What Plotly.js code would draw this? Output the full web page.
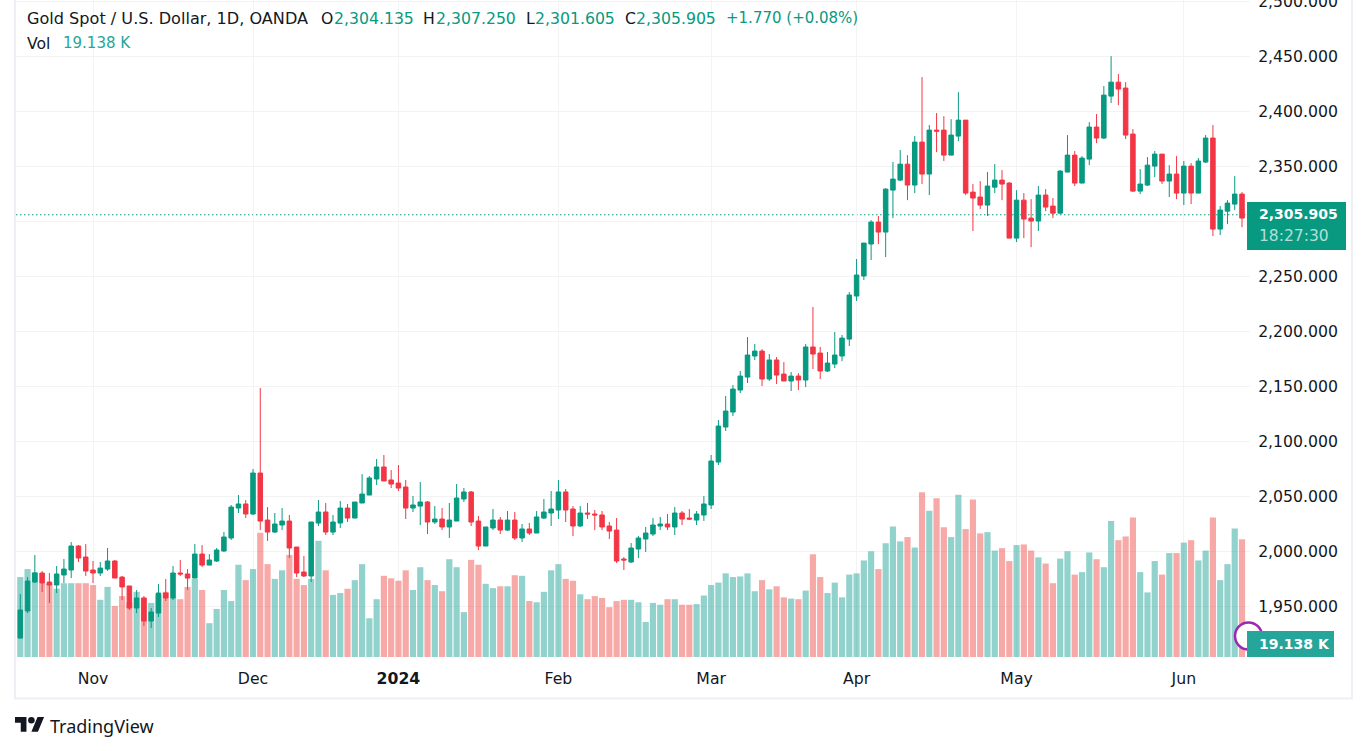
<!DOCTYPE html>
<html>
<head>
<meta charset="utf-8">
<title>Gold Spot / U.S. Dollar</title>
<script src="https://cdn.plot.ly/plotly-3.0.1.min.js"></script>
<style>
  html, body { margin: 0; padding: 0; background: #fff; }
  #chart { width: 1361px; height: 751px; }
</style>
</head>
<body>
<div id="chart"></div>
<script>
const opens = [
  1921.4, 1946, 1972.3, 1980.5, 1972.3, 1969.6, 1978.7, 1983.2, 2005, 1995,
  1983.2, 1980.5, 1984.1, 1991.4, 1976.8, 1968.7, 1948.7, 1957.8, 1936.9, 1944.1,
  1962.3, 1957.8, 1980.5, 1979.6, 1975.9, 1997.7, 1987.7, 1991.4, 2000.5, 2012.3,
  2039.5, 2043.2, 2034.1, 2071.3, 2028.6, 2017.7, 2024.1, 2027.7, 2004.1, 1981.4,
  1977.8, 2025.9, 2035.9, 2017.7, 2025.9, 2039.5, 2030.4, 2044.1, 2051.3, 2065.9,
  2076.8, 2065, 2062.2, 2058.6, 2039.5, 2041.3, 2045, 2026.8, 2029.5, 2022.3,
  2027.7, 2047.7, 2054.1, 2027.7, 2005, 2021.4, 2028.6, 2019.5, 2028.6, 2012.3,
  2020.5, 2016.8, 2030.4, 2035, 2037.7, 2054.1, 2038.6, 2023.2, 2035, 2034.1,
  2033.2, 2023.2, 2019.5, 1993.2, 1990.5, 2002.3, 2011.4, 2015.9, 2023.2, 2025,
  2022.3, 2035, 2030.4, 2028.6, 2033.2, 2042.3, 2081.3, 2113.1, 2126.7, 2146.7,
  2158.5, 2177.6, 2182.1, 2156.7, 2174, 2161.2, 2154.9, 2159.4, 2155.8, 2185.8,
  2180.3, 2164, 2170.3, 2177.6, 2193, 2232.1, 2250.3, 2279.3, 2299.3, 2290.2,
  2328.3, 2337.4, 2351.9, 2332.9, 2371.9, 2342.9, 2382.8, 2382.8, 2360.1, 2377.4,
  2391.9, 2326.5, 2322, 2314.7, 2331, 2337.4, 2334.7, 2284.7, 2319.2, 2302.9,
  2300.2, 2323.8, 2313.8, 2307.4, 2344.7, 2360.1, 2334.7, 2356.5, 2385.6, 2375.6,
  2413.7, 2426.4, 2421, 2379.2, 2327.4, 2332.9, 2350.1, 2361, 2336.5, 2342.9,
  2325.6, 2350.1, 2325.6, 2353.8, 2375.6, 2292.9, 2309.2, 2315.6, 2324.7
];
const highs = [
  1961.4, 1976.8, 1996.8, 1982.3, 1980.5, 1986.8, 1993.2, 2008.6, 2005.9, 2006.8,
  1991.4, 1990.5, 2003.2, 1992.3, 1977.8, 1968.7, 1965, 1959.6, 1948.7, 1970.5,
  1975, 1986.8, 1992.3, 1984.1, 2006.8, 2005.9, 1997.7, 2003.2, 2017.7, 2042.3,
  2051.3, 2046.8, 2075, 2148.5, 2040.4, 2035, 2039.5, 2033.2, 2004.1, 1995.9,
  2026.8, 2046.8, 2044.1, 2033.2, 2045.9, 2043.2, 2045, 2070.4, 2068.6, 2084,
  2087.7, 2074, 2078.6, 2065, 2050.4, 2063.1, 2045.9, 2041.3, 2039.5, 2044.1,
  2061.3, 2057.7, 2055, 2032.3, 2022.3, 2038.6, 2031.4, 2036.8, 2035.9, 2025,
  2025.9, 2036.8, 2047.7, 2055, 2065, 2056.8, 2041.3, 2041.3, 2044.1, 2037.7,
  2036.8, 2026.8, 2030.4, 1995, 2007.7, 2014.1, 2022.3, 2030.4, 2031.4, 2034.1,
  2040.4, 2036.8, 2038.6, 2036.8, 2050.4, 2087.7, 2119.5, 2141.3, 2151.3, 2164,
  2194.8, 2188.5, 2183.9, 2179.4, 2176.7, 2172.1, 2163.1, 2162.1, 2188.5, 2222.1,
  2185.8, 2181.2, 2199.4, 2196.7, 2235.7, 2265.7, 2280.2, 2301.1, 2304.8, 2330.1,
  2353.8, 2364.7, 2360.1, 2377.4, 2431, 2387.4, 2398.3, 2395.5, 2392.8, 2417.3,
  2391.9, 2333.8, 2336.5, 2344.7, 2351.9, 2346.5, 2335.6, 2328.3, 2325.6, 2320.1,
  2332, 2329.2, 2321.1, 2346.5, 2378.3, 2363.8, 2359.2, 2390.1, 2397.4, 2422.8,
  2450, 2433.7, 2426.4, 2383.7, 2347.4, 2358.3, 2363.8, 2361, 2351, 2359.2,
  2354.7, 2352.9, 2357.4, 2378.3, 2387.4, 2313.8, 2319.2, 2341, 2326.5
];
const lows = [
  1921.4, 1944.1, 1971.4, 1963.2, 1953.2, 1962.3, 1971.4, 1975.9, 1990.5, 1977.8,
  1971.4, 1977.8, 1982.3, 1975.9, 1956, 1946.9, 1944.1, 1932.3, 1930.5, 1940.5,
  1955, 1956, 1977.8, 1965, 1975.9, 1985.9, 1987.7, 1990.5, 1999.6, 2010.5,
  2035, 2030.4, 2033.2, 2019.5, 2009.6, 2016.8, 2019.5, 1994.1, 1976.8, 1976.8,
  1972.3, 2023.2, 2015, 2015, 2021.4, 2026.8, 2030.4, 2044.1, 2051.3, 2060.4,
  2064.1, 2057.7, 2055, 2029.5, 2035.9, 2024.1, 2015.9, 2025, 2019.5, 2012.3,
  2027.7, 2045, 2023.2, 2001.4, 2005, 2019.5, 2015.9, 2018.6, 2010.5, 2008.6,
  2015, 2016.8, 2029.5, 2023.2, 2029.5, 2026.8, 2014.1, 2022.3, 2029.5, 2019.5,
  2019.5, 2011.4, 1989.6, 1983.2, 1989.6, 1994.1, 1999.6, 2014.1, 2019.5, 2019.5,
  2015, 2024.1, 2028.6, 2024.1, 2027.7, 2038.6, 2078.6, 2109.5, 2123.1, 2144,
  2153.1, 2174, 2150.3, 2154.9, 2152.2, 2154.9, 2145.8, 2146.7, 2149.4, 2165.8,
  2156.7, 2163.1, 2166.7, 2173, 2186.7, 2227.6, 2246.6, 2264.8, 2279.3, 2267.5,
  2302.9, 2336.5, 2319.2, 2325.6, 2333.8, 2323.8, 2362.8, 2354.7, 2360.1, 2372.8,
  2323.8, 2291.1, 2311.1, 2304.7, 2325.6, 2319.2, 2284.7, 2281.1, 2284.7, 2276.5,
  2291.1, 2309.2, 2302.9, 2306.5, 2344.7, 2332, 2334.7, 2351, 2371, 2374.7,
  2407.4, 2405.5, 2374.7, 2326.5, 2324.7, 2332, 2340.1, 2333.8, 2322, 2320.1,
  2314.7, 2315.6, 2325.6, 2352.9, 2286.5, 2287.5, 2297.4, 2310.2, 2294.7
];
const closes = [
  1946.9, 1973.2, 1980.5, 1971.4, 1969.6, 1979.6, 1984.1, 2005, 1994.1, 1982.3,
  1980.5, 1985, 1991.4, 1975.9, 1967.8, 1948.7, 1957.8, 1936.9, 1945.1, 1962.3,
  1957.8, 1980.5, 1979.6, 1975.9, 1997.7, 1987.7, 1992.3, 2001.4, 2013.2, 2040.4,
  2043.2, 2034.1, 2071.3, 2027.7, 2017.7, 2025, 2027.7, 2003.2, 1980.5, 1977.8,
  2026.8, 2035.9, 2017.7, 2026.8, 2039.5, 2030.4, 2045, 2052.2, 2066.8, 2076.8,
  2064.1, 2061.3, 2057.7, 2039.5, 2042.3, 2045, 2026.8, 2029.5, 2022.3, 2028.6,
  2048.6, 2054.1, 2026.8, 2005, 2022.3, 2028.6, 2019.5, 2028.6, 2012.3, 2020.5,
  2016.8, 2031.4, 2035.9, 2038.6, 2054.1, 2037.7, 2023.2, 2035, 2034.1, 2033.2,
  2022.3, 2018.6, 1991.4, 1992.3, 2003.2, 2012.3, 2016.8, 2024.1, 2025, 2022.3,
  2035, 2029.5, 2029.5, 2034.1, 2043.2, 2082.2, 2114, 2127.6, 2147.6, 2159.4,
  2178.5, 2182.1, 2156.7, 2174, 2160.3, 2154.9, 2159.4, 2155.8, 2185.8, 2179.4,
  2164, 2171.2, 2178.5, 2193.9, 2233, 2251.2, 2280.2, 2299.3, 2290.2, 2329.2,
  2338.3, 2351.9, 2332.9, 2371.9, 2342.9, 2382.8, 2381.9, 2360.1, 2378.3, 2391.9,
  2325.6, 2321.1, 2314.7, 2332, 2337.4, 2333.8, 2284.7, 2319.2, 2302, 2300.2,
  2323.8, 2312.9, 2307.4, 2345.6, 2360.1, 2334.7, 2357.4, 2385.6, 2375.6, 2414.6,
  2426.4, 2420.1, 2378.3, 2327.4, 2333.8, 2351, 2361, 2336.5, 2342.9, 2325.6,
  2350.1, 2325.6, 2354.7, 2375.6, 2292.9, 2310.2, 2316.5, 2324.7, 2302.9
];
// volume in thousands
const volumes = [
  13, 14.3, 13.8, 12, 11.9, 11.1, 12, 12, 12, 12,
  11.7, 9.3, 11.4, 8.3, 9.9, 8.9, 10.6, 9.6, 8.8, 10.1,
  10.6, 9.6, 9.4, 11.4, 12.7, 10.9, 5.5, 7.8, 10.9, 9.1,
  15, 12.5, 14.3, 20.2, 15.1, 12.7, 14.1, 16.6, 12.7, 11.7,
  12.7, 18.9, 14.1, 10.1, 10.4, 11.1, 12.5, 15.1, 6.3, 9.4,
  13.2, 12.8, 12.4, 14.1, 10.9, 14.6, 12.5, 11.7, 10.7, 15.9,
  14.6, 7.3, 15.8, 15, 11.9, 11.2, 11.5, 11.5, 13.3, 13.2,
  9.1, 8.9, 10.6, 14.1, 15.1, 12.7, 12.4, 10.2, 9.4, 9.9,
  9.6, 8.1, 9.1, 9.3, 9.3, 8.9, 5.7, 8.8, 8.5, 9.4,
  9.4, 8.5, 8.5, 8.6, 10, 11.7, 12.1, 13.6, 13, 13.1,
  13.6, 10.7, 12.5, 11, 11.5, 9.7, 9.5, 9.4, 10.8, 16.7,
  13, 10.4, 12.1, 9.7, 13.4, 13.6, 15.7, 17.2, 14.3, 18.5,
  21.2, 18.8, 19.5, 17.8, 26.8, 23.8, 25.8, 21.1, 19.5, 26.4,
  20.8, 25.6, 20.1, 20.3, 17.3, 17.7, 15.6, 18.2, 18.3, 17.3,
  16.2, 15.2, 12, 16, 17.2, 13.4, 13.8, 17, 15.9, 14.6,
  22.1, 19, 19.6, 22.7, 13.8, 10.5, 15.6, 13.4, 16.9, 16.9,
  18.6, 19, 15.7, 17.3, 22.7, 12.5, 15.1, 20.9, 19.138
];
const monthTickPos = [10, 32, 52, 74, 95, 115, 137, 160];
const monthTickText = ["Nov", "Dec", "<b>2024</b>", "Feb", "Mar", "Apr", "May", "Jun"];
const priceTicks = [1950, 2000, 2050, 2100, 2150, 2200, 2250, 2300, 2350, 2400, 2450, 2500];
// 2,300 keeps its grid line but its label sits under the last price tag
const priceTickText = ["1,950.000", "2,000.000", "2,050.000", "2,100.000", "2,150.000", "2,200.000", "2,250.000", "", "2,350.000", "2,400.000", "2,450.000", "2,500.000"];
const lastPrice = 2305.905;

const GREEN = "#089981";
const RED = "#f23645";
const INK = "#131722";
const GRID = "#f3f3f4";
const FONT = "'DejaVu Sans', sans-serif";
const TEXT_SIZE = 15.7;

const indexes = opens.map((_, i) => i);
const volColors = closes.map((c, i) =>
  c >= opens[i] ? "rgba(38,166,154,0.5)" : "rgba(239,83,80,0.5)"
);

// page pixels to paper coordinates
const W = 1361, H = 751, L = 16, R = 111, T = 0, B = 94;
const px = (x) => (x - L) / (W - L - R);
const py = (y) => (H - B - y) / (H - T - B);

function label(x, y, text, color, size, bold, family) {
  return {
    xref: "paper", yref: "paper", x: px(x), y: py(y), text: bold ? "<b>" + text + "</b>" : text,
    showarrow: false, xanchor: "left", yanchor: "middle",
    font: { family: family || FONT, size: size || TEXT_SIZE, color: color || INK },
    borderpad: 0, borderwidth: 0,
  };
}

function paperRect(x0, y0, x1, y1, fill) {
  return {
    type: "rect", xref: "paper", yref: "paper", layer: "above",
    x0: px(x0), x1: px(x1), y0: py(y0), y1: py(y1),
    fillcolor: fill, line: { width: 0 },
  };
}

const volumeTrace = {
  type: "bar", x: indexes, y: volumes, yaxis: "y",
  marker: { color: volColors, line: { width: 0 } },
  hoverinfo: "skip", showlegend: false,
};

const candleTrace = {
  type: "candlestick", x: indexes, open: opens, high: highs, low: lows, close: closes, yaxis: "y2",
  increasing: { line: { color: GREEN, width: 1 }, fillcolor: GREEN },
  decreasing: { line: { color: RED, width: 1 }, fillcolor: RED },
  showlegend: false,
};

const logo = "data:image/svg+xml," + encodeURIComponent(
  '<svg xmlns="http://www.w3.org/2000/svg" viewBox="0 0 36 28"><path fill="#131722" d="M14 22H7V11H0V4h14v18zM28 22h-8l7.5-18h8L28 22z"/><circle fill="#131722" cx="20" cy="8" r="4"/></svg>'
);

const layout = {
  width: W, height: H,
  margin: { l: L, r: R, t: T, b: B, pad: 0 },
  paper_bgcolor: "#fff", plot_bgcolor: "#fff",
  font: { family: FONT, color: INK, size: TEXT_SIZE },
  dragmode: false, showlegend: false,
  bargap: 0.15, boxgap: 0.38, boxgroupgap: 0,
  xaxis: {
    type: "linear", range: [-0.59, 169.1], rangeslider: { visible: false },
    tickmode: "array", tickvals: monthTickPos, ticktext: monthTickText,
    showgrid: true, gridcolor: GRID, gridwidth: 1, zeroline: false, showline: false,
    ticks: "outside", ticklen: 7, tickcolor: "rgba(0,0,0,0)",
    tickfont: { family: FONT, size: TEXT_SIZE, color: INK },
  },
  yaxis: { range: [0, 106.83], visible: false, fixedrange: true },
  yaxis2: {
    overlaying: "y", side: "right", range: [1904.2, 2501],
    tickmode: "array", tickvals: priceTicks, ticktext: priceTickText, ticklabeloverflow: "allow",
    showgrid: true, gridcolor: GRID, gridwidth: 1, zeroline: false, showline: false,
    ticks: "outside", ticklen: 4, tickcolor: "rgba(0,0,0,0)",
    tickfont: { family: FONT, size: TEXT_SIZE, color: INK },
  },
  shapes: [
    // last price line
    {
      type: "line", xref: "paper", yref: "y2", layer: "below", x0: 0, x1: 1,
      y0: lastPrice, y1: lastPrice, line: { color: GREEN, width: 1, dash: "1.5px,2.5px" },
    },
    // pane border
    paperRect(14, 0, 16, 699, "#eeeff5"),
    paperRect(1351, 0, 1353, 699, "#eeeff5"),
    paperRect(14, 697.5, 1353, 699.5, "#eeeff5"),
    // earnings marker under the volume tag
    {
      type: "circle", xref: "paper", yref: "paper", layer: "above",
      x0: px(1235), x1: px(1262), y0: py(622.5), y1: py(649.5),
      fillcolor: "#fff", line: { color: "#9c27b0", width: 2.5 },
    },
    // value tags
    paperRect(1247, 202, 1346, 250, GREEN),
    paperRect(1247, 631, 1334, 657, "#26a69a"),
  ],
  annotations: [
    label(27, 18, "Gold Spot / U.S. Dollar, 1D, OANDA", INK, 16.1),
    label(321, 18, "O"), label(334, 18, "2,304.135", GREEN),
    label(423, 18, "H"), label(436, 18, "2,307.250", GREEN),
    label(526, 18, "L"), label(535, 18, "2,301.605", GREEN),
    label(625, 18, "C"), label(636, 18, "2,305.905", GREEN),
    label(726, 18, "+1.770 (+0.08%)", GREEN, 15),
    label(27, 43, "Vol"), label(63, 43, "19.138 K", "#26a69a", 15),
    label(1259, 214, "2,305.905", "#fff", 14, true),
    label(1259, 236, "18:27:30", "rgba(255,255,255,0.7)", 15.5),
    label(1259, 644, "19.138 K", "#fff", 14, true),
    label(50, 726, "TradingView", INK, 18, false, "'Noto Sans', sans-serif"),
  ],
  images: [
    { source: logo, xref: "paper", yref: "paper", x: px(15), y: py(713.7), sizex: 29.5 / (W - L - R), sizey: 23 / (H - T - B), xanchor: "left", yanchor: "top", sizing: "stretch", layer: "above" },
  ],
};

Plotly.newPlot("chart", [volumeTrace, candleTrace], layout, { displayModeBar: false, staticPlot: true });
</script>
</body>
</html>
